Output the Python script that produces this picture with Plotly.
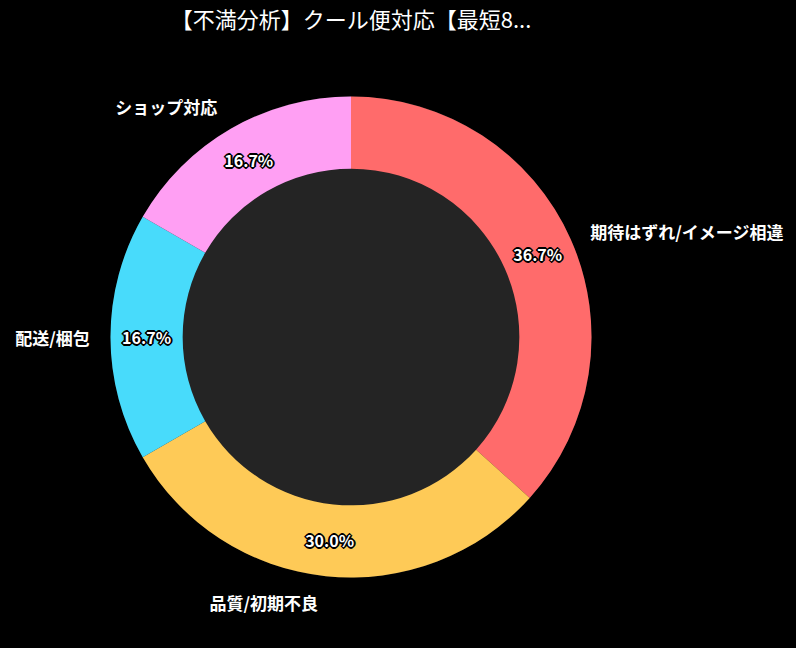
import plotly.graph_objects as go

# 不満カテゴリと件数
labels = ["期待はずれ/イメージ相違", "品質/初期不良", "配送/梱包", "ショップ対応"]
counts = [11, 9, 5, 5]
colors = ["#FF6B6B", "#FECA57", "#48DBFB", "#FF9FF3"]
title = "【不満分析】クール便対応【最短8..."

font = "Noto Sans CJK JP"
outline = ("1px 1px 0 #000, -1px -1px 0 #000, 1px -1px 0 #000, -1px 1px 0 #000, "
           "0 2px 0 #000, 0 -2px 0 #000, 2px 0 0 #000, -2px 0 0 #000")

W, H = 796, 648
cx, cy = 351, 311  # pie centre (px, from bottom)
r_ring, r_lab = 240.5, 255


def dom(r):
    return dict(x=[(cx - r) / W, (cx + r) / W], y=[(cy - r) / H, (cy + r) / H])


fig = go.Figure()

# dark centre disc
fig.add_trace(go.Pie(
    values=[1], marker=dict(colors=["#242424"], line=dict(width=0)),
    textinfo="none", hoverinfo="skip", sort=False, showlegend=False,
    domain=dom(r_ring),
))

# donut with percentages inside
fig.add_trace(go.Pie(
    labels=labels, values=counts, hole=0.7, sort=False, direction="clockwise",
    marker=dict(colors=colors, line=dict(width=0)),
    textinfo="percent", textposition="inside", insidetextorientation="horizontal",
    texttemplate="%{percent:.1%}",
    textfont=dict(family=font, size=16, color="white", weight="bold", shadow=outline),
    showlegend=False, domain=dom(r_ring),
))

# invisible ring only for the outside category labels
fig.add_trace(go.Pie(
    labels=labels, values=counts, hole=0.9, sort=False, direction="clockwise",
    marker=dict(colors=["rgba(0,0,0,0)"] * len(labels), line=dict(width=0)),
    textinfo="label", textposition="outside",
    textfont=dict(family=font, size=17, color="white", weight="bold"),
    hoverinfo="skip", showlegend=False, domain=dom(r_lab),
))

fig.update_layout(
    width=W, height=H,
    margin=dict(l=0, r=0, t=0, b=0),
    paper_bgcolor="black", plot_bgcolor="black",
    title=dict(text=title, x=cx / W, xanchor="center", y=1 - 20 / H, yanchor="middle",
               font=dict(family=font, size=22, color="white")),
)

fig.write_html("out.html", config={"displayModeBar": False},
               post_script="document.body.style.margin='0';document.body.style.background='black';")
